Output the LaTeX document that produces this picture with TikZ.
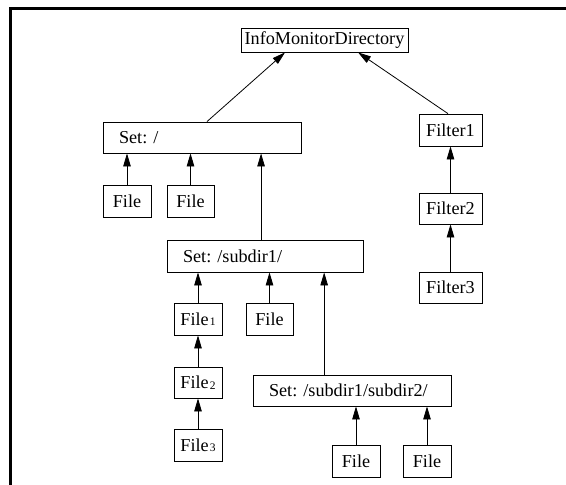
\documentclass[tikz,border=0pt]{standalone}
\usepackage{fontspec}
\setmainfont{Liberation Serif}
\usetikzlibrary{arrows.meta,calc}
\frenchspacing
\newcommand{\sub}[1]{\kern1pt\raisebox{-0.5pt}{\fontsize{11.5}{12}\selectfont #1}}
\begin{document}
\begin{tikzpicture}[x=1pt,y=-1pt,
  box/.style={draw,line width=0.8pt,inner sep=0pt,minimum height=32pt,font=\fontsize{18.2}{19}\selectfont},
  setbox/.style={box,inner xsep=16pt,text width=#1,align=left},
  arr/.style={line width=0.8pt,-{Triangle[length=13pt,width=7.5pt]}},
  frame/.style={line width=2.6pt}]
\useasboundingbox (0,0) rectangle (566,485);
\coordinate (ftl) at (10.3,8.7);
\coordinate (ftr) at (566,8.7);
\coordinate (fbl) at (10.3,485);
\draw[frame] (ftr) -- (ftl) -- (fbl);

\node[box,minimum width=167pt,minimum height=24pt] (imd) at (324.5,40) {InfoMonitorDirectory};
\node[setbox=166pt,minimum height=31pt] (set0) at (202,137.5) {Set: /};
\node[box,minimum width=48pt] (f01) at (127,201) {File};
\node[box,minimum width=47pt] (f02) at (190.5,201) {File};
\node[setbox=164pt] (set1) at (265,256) {Set: /subdir1/};
\node[box,minimum width=48pt] (f11) at (198,319) {File\sub{1}};
\node[box,minimum width=47pt] (f12) at (269.5,319) {File};
\node[box,minimum width=48pt,minimum height=31pt] (f13) at (198,382.5) {File\sub{2}};
\node[box,minimum width=48pt] (f14) at (198,445) {File\sub{3}};
\node[setbox=166pt,minimum height=31pt] (set2) at (352,390.5) {Set: /subdir1/subdir2/};
\node[box,minimum width=48pt] (f21) at (356,461) {File};
\node[box,minimum width=48pt] (f22) at (427,461) {File};
\node[box,minimum width=63pt] (fl1) at (450.5,130) {Filter1};
\node[box,minimum width=63pt,minimum height=31pt] (fl2) at (450.5,208.5) {Filter2};
\node[box,minimum width=63pt,minimum height=31pt] (fl3) at (450.5,287.5) {Filter3};

\draw[arr] ($(set0.north west)!0.525!(set0.north east)$) -- ($(imd.south west)!0.265!(imd.south east)$);
\draw[arr] ($(fl1.north west)!0.46!(fl1.north east)$) -- ($(imd.south west)!0.70!(imd.south east)$);
\draw[arr] (f01.north) -- (f01.north |- set0.south);
\draw[arr] (f02.north) -- (f02.north |- set0.south);
\draw[arr] ($(set1.north west)!0.48!(set1.north east)$) coordinate (s1n) -- (s1n |- set0.south);
\draw[arr] (f11.north) -- (f11.north |- set1.south);
\draw[arr] (f12.north) -- (f12.north |- set1.south);
\draw[arr] ($(set2.north west)!0.36!(set2.north east)$) coordinate (s2n) -- (s2n |- set1.south);
\draw[arr] (f13.north) -- (f11.south);
\draw[arr] (f14.north) -- (f13.south);
\draw[arr] (f21.north) -- (f21.north |- set2.south);
\draw[arr] (f22.north) -- (f22.north |- set2.south);
\draw[arr] (fl2.north) -- (fl1.south);
\draw[arr] (fl3.north) -- (fl2.south);
\end{tikzpicture}
\end{document}
